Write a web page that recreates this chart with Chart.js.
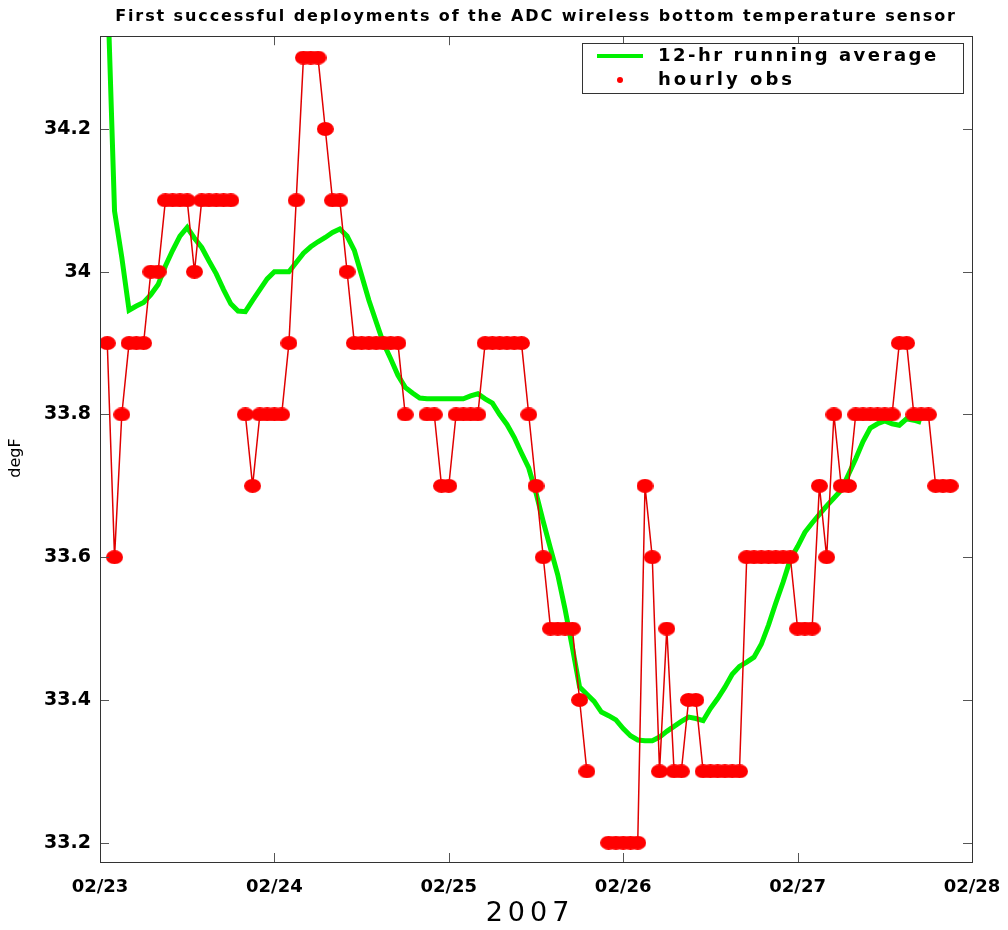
<!DOCTYPE html>
<html>
<head>
<meta charset="utf-8">
<script src="https://cdn.jsdelivr.net/npm/chart.js@4.4.1/dist/chart.umd.min.js"></script>
<style>
  html, body { margin: 0; padding: 0; background: #fff; }
  #wrap { width: 1008px; height: 930px; }
</style>
</head>
<body>
<div id="wrap"><canvas id="c" width="1008" height="930"></canvas></div>
<script>
// ---- data ----
const dateLabels = ['02/23', '02/24', '02/25', '02/26', '02/27', '02/28'];
const dayTickHours = [0, 24, 48, 72, 96, 120];
const yTickValues = [33.2, 33.4, 33.6, 33.8, 34.0, 34.2];
const yTickLabels = ['33.2', '33.4', '33.6', '33.8', '34', '34.2'];

// hourly observations, hour 1 .. 117 after 02/23 00:00 (null = missing)
const obsStartHour = 1;
const hourlyObs = [
  33.9, 33.6, 33.8, 33.9, 33.9, 33.9, 34.0, 34.0, 34.1, 34.1,
  34.1, 34.1, 34.0, 34.1, 34.1, 34.1, 34.1, 34.1, null, 33.8,
  33.7, 33.8, 33.8, 33.8, 33.8, 33.9, 34.1, 34.3, 34.3, 34.3,
  34.2, 34.1, 34.1, 34.0, 33.9, 33.9, 33.9, 33.9, 33.9, 33.9,
  33.9, 33.8, null, null, 33.8, 33.8, 33.7, 33.7, 33.8, 33.8,
  33.8, 33.8, 33.9, 33.9, 33.9, 33.9, 33.9, 33.9, 33.8, 33.7,
  33.6, 33.5, 33.5, 33.5, 33.5, 33.4, 33.3, null, null, 33.2,
  33.2, 33.2, 33.2, 33.2, 33.7, 33.6, 33.3, 33.5, 33.3, 33.3,
  33.4, 33.4, 33.3, 33.3, 33.3, 33.3, 33.3, 33.3, 33.6, 33.6,
  33.6, 33.6, 33.6, 33.6, 33.6, 33.5, 33.5, 33.5, 33.7, 33.6,
  33.8, 33.7, 33.7, 33.8, 33.8, 33.8, 33.8, 33.8, 33.8, 33.9,
  33.9, 33.8, 33.8, 33.8, 33.7, 33.7, 33.7
];

// 12-hr running average, hour 1 .. 113
const avgStartHour = 1;
const runningAvg = [
  34.41, 34.085, 34.02, 33.946, 33.952, 33.957, 33.968, 33.982, 34.008, 34.03,
  34.05, 34.062, 34.047, 34.034, 34.015, 33.997, 33.975, 33.955, 33.945, 33.944,
  33.96, 33.975, 33.99, 34.0, 34.0, 34.0, 34.013, 34.026, 34.035, 34.042,
  34.048, 34.055, 34.06, 34.05, 34.03, 33.995, 33.96, 33.93, 33.9, 33.878,
  33.855, 33.838, 33.83, 33.823, 33.822, 33.822, 33.822, 33.822, 33.822, 33.822,
  33.826, 33.829, 33.822, 33.816, 33.8, 33.786, 33.768, 33.746, 33.725, 33.69,
  33.65, 33.612, 33.575, 33.527, 33.474, 33.418, 33.408, 33.398, 33.383, 33.378,
  33.372, 33.36, 33.35, 33.344, 33.343, 33.343, 33.348, 33.356, 33.363, 33.37,
  33.376, 33.374, 33.371, 33.388, 33.402, 33.418, 33.436, 33.447, 33.453, 33.46,
  33.478, 33.505, 33.536, 33.565, 33.597, 33.615, 33.635, 33.648, 33.66, 33.672,
  33.683, 33.694, 33.716, 33.738, 33.762, 33.781, 33.787, 33.791, 33.787, 33.785,
  33.794, 33.792, 33.789
];

const titleText = 'First successful deployments of the ADC wireless bottom temperature sensor';
const legendLabels = ['12-hr running average', 'hourly obs'];

// ---- build ----
const obsPoints = hourlyObs.map((v, i) => ({ x: obsStartHour + i, y: v }));
const avgPoints = runningAvg.map((v, i) => ({ x: avgStartHour + i, y: v }));

const RED = '#ff0000';
const GREEN = '#00f000';

// ellipse marker like the original
const marker = document.createElement('canvas');
marker.width = 17; marker.height = 14;
(function () {
  const m = marker.getContext('2d');
  m.fillStyle = RED;
  m.beginPath();
  m.ellipse(8.5, 7, 8.5, 7, 0, 0, Math.PI * 2);
  m.fill();
})();

function wrapDraw(obj, method, spacing, dxFn, dy) {
  if (!obj || obj['__w_' + method]) return;
  const orig = obj[method];
  obj[method] = function (...args) {
    const c = this.ctx;
    c.save();
    if ('letterSpacing' in c) c.letterSpacing = spacing;
    c.translate(dxFn ? dxFn(this) : 0, dy || 0);
    const r = orig.apply(this, args);
    c.restore();
    return r;
  };
  obj['__w_' + method] = true;
}

const framePlugin = {
  id: 'frame',
  beforeDraw(chart) {
    wrapDraw(chart.titleBlock, 'draw', '1.9px', (tb) => {
      const ca = chart.chartArea;
      return (ca.left + ca.right) / 2 - (tb.left + tb.right) / 2;
    }, 0);
    wrapDraw(chart.scales.x, 'drawTitle', '5px', () => -6, 0);
    wrapDraw(chart.scales.y, 'drawTitle', '0px', null, 9);
  },
  afterDatasetsDraw(chart) {
    const { ctx, chartArea: a, scales } = chart;
    ctx.save();
    ctx.strokeStyle = '#555';
    ctx.lineWidth = 1;
    ctx.beginPath();
    const tl = 9;
    yTickValues.forEach(v => {
      const y = Math.round(scales.y.getPixelForValue(v)) + 0.5;
      ctx.moveTo(a.left, y); ctx.lineTo(a.left + tl, y);
      ctx.moveTo(a.right, y); ctx.lineTo(a.right - tl, y);
    });
    dayTickHours.forEach(h => {
      const x = Math.round(scales.x.getPixelForValue(h)) + 0.5;
      ctx.moveTo(x, a.bottom); ctx.lineTo(x, a.bottom - tl);
      ctx.moveTo(x, a.top); ctx.lineTo(x, a.top + tl);
    });
    ctx.stroke();
    ctx.strokeStyle = '#333';
    ctx.strokeRect(Math.round(a.left) + 0.5, Math.round(a.top) + 0.5,
                   Math.round(a.right - a.left), Math.round(a.bottom - a.top));
    ctx.restore();
  },
  afterDraw(chart) {
    const { ctx } = chart;
    // legend box
    const bx = 582, by = 43, bw = 381, bh = 50;
    ctx.save();
    ctx.fillStyle = '#fff';
    ctx.fillRect(bx, by, bw, bh);
    ctx.strokeStyle = '#333';
    ctx.lineWidth = 1;
    ctx.strokeRect(bx + 0.5, by + 0.5, bw, bh);
    ctx.strokeStyle = GREEN;
    ctx.lineWidth = 4;
    ctx.beginPath();
    ctx.moveTo(597, 56); ctx.lineTo(643, 56);
    ctx.stroke();
    ctx.fillStyle = RED;
    ctx.beginPath();
    ctx.arc(620, 80, 3, 0, Math.PI * 2);
    ctx.fill();
    ctx.fillStyle = '#000';
    ctx.font = 'bold 18px "DejaVu Sans"';
    ctx.textBaseline = 'middle';
    ctx.textAlign = 'left';
    if ('letterSpacing' in ctx) ctx.letterSpacing = '2.5px';
    ctx.fillText(legendLabels[0], 658, 56);
    if ('letterSpacing' in ctx) ctx.letterSpacing = '3px';
    ctx.fillText(legendLabels[1], 658, 80);
    ctx.restore();
  }
};

new Chart(document.getElementById('c'), {
  type: 'line',
  data: {
    datasets: [
      {
        label: legendLabels[1],
        data: obsPoints,
        borderColor: '#e00000',
        borderWidth: 1.5,
        pointStyle: marker,
        pointRadius: 7,
        pointHoverRadius: 7,
        spanGaps: false,
        tension: 0,
        order: 0
      },
      {
        label: legendLabels[0],
        data: avgPoints,
        borderColor: GREEN,
        borderWidth: 5,
        pointRadius: 0,
        tension: 0,
        order: 1
      }
    ]
  },
  options: {
    responsive: false,
    animation: false,
    devicePixelRatio: 1,
    layout: { padding: { left: 0, right: 36, top: 0, bottom: 0 } },
    plugins: {
      legend: { display: false },
      tooltip: { enabled: false },
      title: {
        display: true,
        text: titleText,
        color: '#000',
        font: { family: 'DejaVu Sans', weight: 'bold', size: 16 },
        padding: { top: 7, bottom: 10 }
      }
    },
    scales: {
      x: {
        type: 'linear',
        min: 0,
        max: 120,
        grid: { display: false, drawTicks: false },
        border: { display: false },
        afterBuildTicks(scale) { scale.ticks = dayTickHours.map(v => ({ value: v })); },
        afterFit(scale) { scale.height = 68; scale.paddingRight = 0; scale.paddingLeft = 0; },
        ticks: {
          padding: 15,
          color: '#000',
          font: { family: 'DejaVu Sans', weight: 'bold', size: 18 },
          maxRotation: 0,
          autoSkip: false,
          callback: (v) => dateLabels[dayTickHours.indexOf(v)]
        },
        title: {
          display: true,
          text: '2007',
          color: '#000',
          font: { family: 'DejaVu Sans', size: 27 },
          padding: { top: 0, bottom: 0 }
        }
      },
      y: {
        type: 'linear',
        min: 33.173,
        max: 34.330,
        grid: { display: false, drawTicks: false },
        border: { display: false },
        afterBuildTicks(scale) { scale.ticks = yTickValues.map(v => ({ value: v })); },
        afterFit(scale) { scale.width = 100; },
        ticks: {
          padding: 9,
          color: '#000',
          font: { family: 'DejaVu Sans', weight: 'bold', size: 19 },
          autoSkip: false,
          callback: (v) => yTickLabels[yTickValues.findIndex(t => Math.abs(t - v) < 1e-6)]
        },
        title: {
          display: true,
          text: 'degF',
          color: '#000',
          font: { family: 'DejaVu Sans', size: 16 },
          padding: { top: 6, bottom: 0 }
        }
      }
    }
  },
  plugins: [framePlugin]
});
</script>
</body>
</html>
